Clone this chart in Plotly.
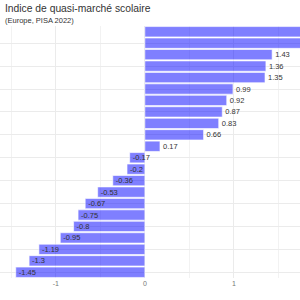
import plotly.graph_objects as go

categories = [f"Pays {i}" for i in range(1, 23)]
values = [-1.45, -1.30, -1.19, -0.95, -0.80, -0.75, -0.67, -0.53, -0.36, -0.20, -0.17,
          0.17, 0.66, 0.83, 0.87, 0.92, 0.99, 1.35, 1.36, 1.43, 1.85, 1.95]
labels = [f"{v:g}" for v in values]

x_range = [-1.627, 1.743]
positions = ["none" if v > x_range[1] else ("outside" if v > 0 else "inside") for v in values]

fig = go.Figure(go.Bar(
    x=values, y=categories, orientation="h",
    text=labels, textposition=positions,
    insidetextanchor="end",
    textfont=dict(size=7.5, color="#333333"),
    insidetextfont=dict(size=7.5, color="#333333"),
    outsidetextfont=dict(size=7.5, color="#333333"),
    marker=dict(color="rgba(0,0,255,0.5)", line=dict(color="rgba(255,255,255,0.6)", width=1)),
    cliponaxis=True,
))

fig.update_layout(
    width=300, height=300,
    margin=dict(l=0, r=0, t=26, b=22),
    paper_bgcolor="white", plot_bgcolor="white",
    font=dict(family="Liberation Sans, Arial, sans-serif", color="#444"),
    bargap=0.1,
    showlegend=False,
    uniformtext=dict(minsize=7.5, mode="show"),
    annotations=[
        dict(text="Indice de quasi-marché scolaire", x=0.01, y=1, xref="paper", yref="paper",
             xanchor="left", yanchor="top", showarrow=False,
             font=dict(size=10.3, color="#333"), yshift=25),
        dict(text="(Europe, PISA 2022)", x=0.01, y=1, xref="paper", yref="paper",
             xanchor="left", yanchor="top", showarrow=False,
             font=dict(size=7.5, color="#333"), yshift=12),
    ],
)
fig.update_xaxes(range=x_range, tickvals=[-1, 0, 1], ticktext=["-1", "0", "1"],
                 showgrid=True, gridcolor="#ebebeb", zeroline=False,
                 minor=dict(dtick=0.5, showgrid=True, gridcolor="#f2f2f2"),
                 tickfont=dict(size=7, color="#777"))
fig.update_yaxes(showticklabels=False, showgrid=True, gridcolor="#ebebeb", zeroline=False)

fig.write_html("out.html")
